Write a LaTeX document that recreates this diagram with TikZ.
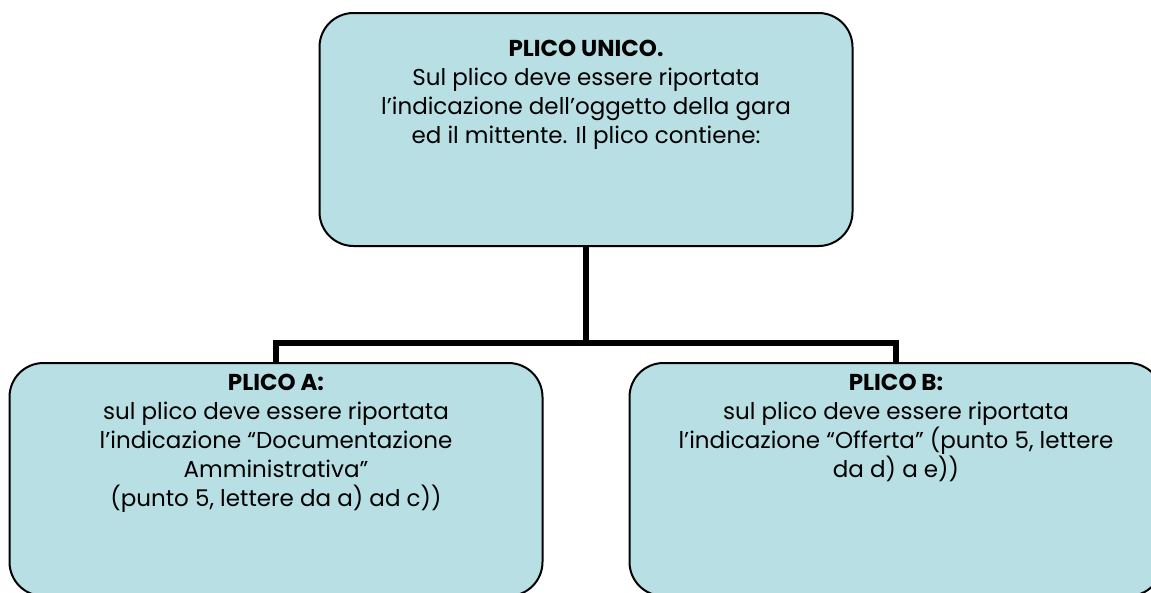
\documentclass[tikz,border=0pt]{standalone}
\usepackage{fontspec}
\setmainfont{Poppins}
\usetikzlibrary{positioning}
\definecolor{plicoblue}{RGB}{184,223,227}

\begin{document}
\begin{tikzpicture}[
        x=1pt, y=-1pt,
        box/.style={rectangle, draw, line width=2pt, fill=plicoblue, rounded corners=34pt, minimum width=533pt, minimum height=233pt},
        txt/.style={align=center, font=\fontsize{23}{29}\selectfont, inner sep=0pt, anchor=north},
        link/.style={line width=6pt}
    ]

    \useasboundingbox (0,0) rectangle (1151,592);
    \clip (0,0) rectangle (1151,592);

    % the three envelopes
    \node[box] (unico) at (586,129.5) {};
    \node[box] (plicoa) at (276,479.5) {};
    \node[box] (plicob) at (896,479.5) {};

    % connectors
    \coordinate[below=96pt of unico.south] (fork);
    \draw[link] (unico.south) -- (fork);
    \draw[link] (plicoa.north) |- (fork) -| (plicob.north);

    % texts
    \node[txt, below=28pt of unico.north] (unicotxt) {\textbf{PLICO UNICO.}\\ Sul plico deve essere riportata\\ l’indicazione dell’oggetto della gara\\ ed il mittente. Il plico contiene:};
    \node[txt, below=12pt of plicoa.north] (plicoatxt) {\textbf{PLICO A:}\\ sul plico deve essere riportata\\ l’indicazione “Documentazione\\ Amministrativa”\\ (punto 5, lettere da a) ad c))};
    \node[txt, below=12pt of plicob.north] (plicobtxt) {\textbf{PLICO B:}\\ sul plico deve essere riportata\\ l’indicazione “Offerta” (punto 5, lettere\\ da d) a e))};

\end{tikzpicture}
\end{document}
